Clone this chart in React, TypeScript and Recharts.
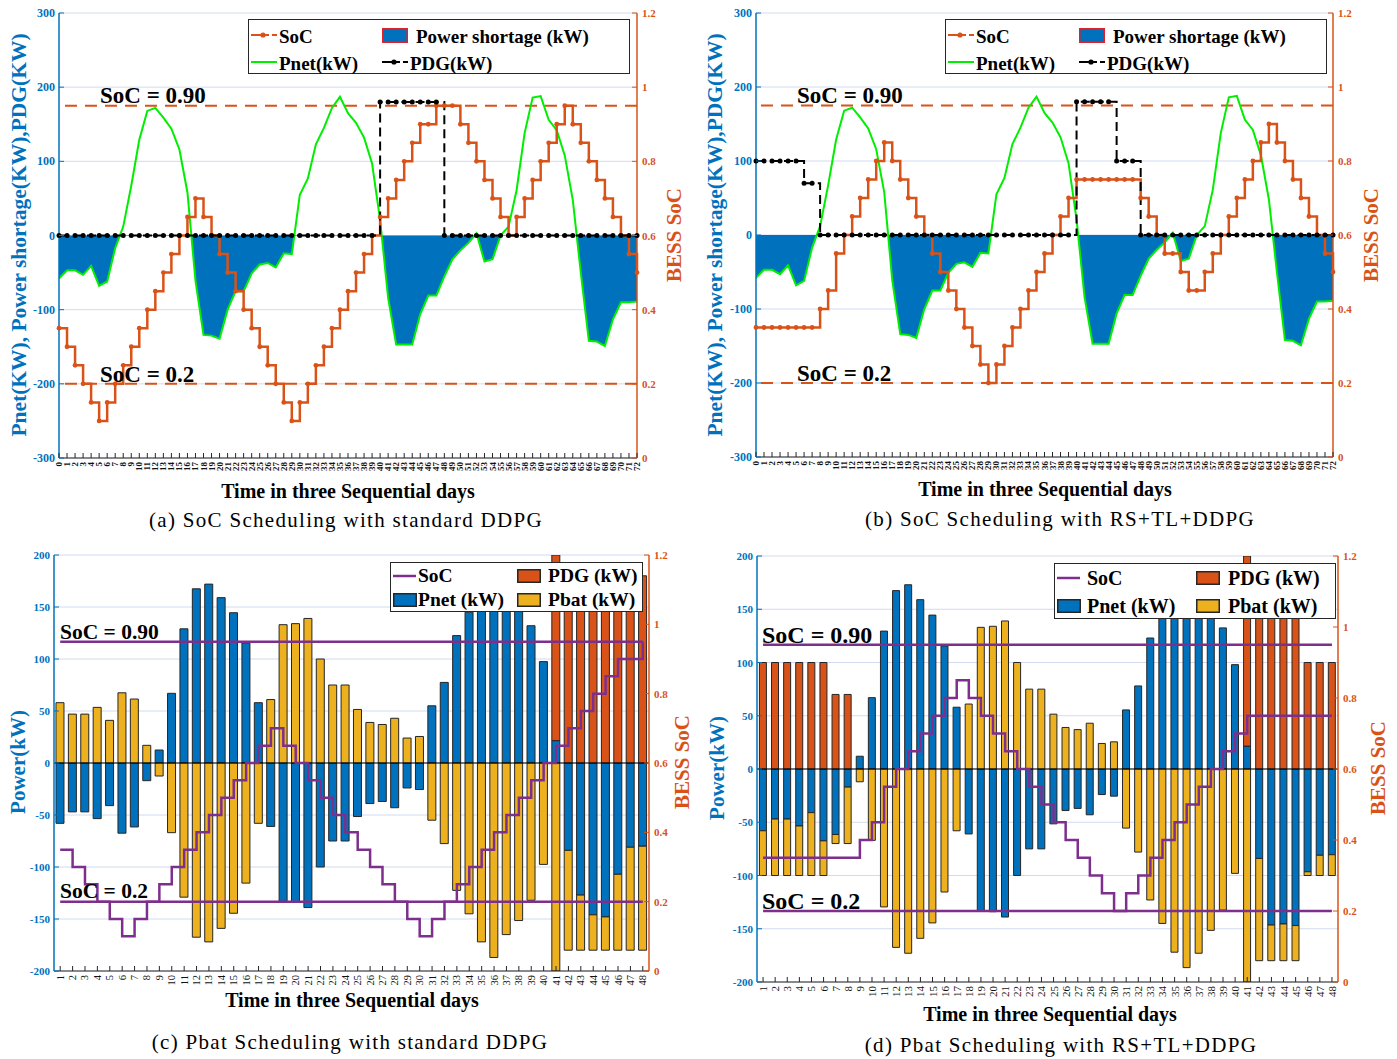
import React from 'react';
import { ComposedChart, Line, Area, Bar, XAxis, YAxis, CartesianGrid, ReferenceLine } from 'recharts';

const SERIF = '"Liberation Serif", "Times New Roman", Times, serif';
const BLUE = '#0072BD';
const ORANGE = '#D95319';
const YELLOW = '#EDB120';
const PURPLE = '#7E2F8E';
const GREEN = '#00EE00';
const GRID = '#d3daf0';
const INK = '#262626';

// x categories
const hours = Array.from({ length: 73 }, (_, i) => i); // 0..72 for (a),(b)
const slots = Array.from({ length: 48 }, (_, i) => String(i + 1)); // 1..48 for (c),(d)

const powerTicksAB = [-300, -200, -100, 0, 100, 200, 300];
const powerTicksCD = [-200, -150, -100, -50, 0, 50, 100, 150, 200];
const socTicks = [0, 0.2, 0.4, 0.6, 0.8, 1, 1.2];

// (a),(b) hourly net power, kW
const pnetHourly = [
  -58, -47, -47, -53, -41, -68, -62, -17, 12, 67,
  129, 168, 172, 159, 144, 116, 58, -61, -134, -135,
  -139, -100, -75, -75, -51, -39, -37, -43, -24, -25,
  55, 77, 123, 145, 172, 187, 165, 152, 132, 97,
  21, -84, -147, -147, -147, -106, -81, -81, -55, -32,
  -20, -10, 3, -35, -32, 0, 12, 61, 138, 186,
  188, 156, 142, 108, 48, -50, -142, -143, -149, -113,
  -90, -90, -89,
];

// (a) standard DDPG
const socStd = [
  0.35, 0.3, 0.25, 0.2, 0.15, 0.1, 0.15, 0.2, 0.25, 0.3,
  0.35, 0.4, 0.45, 0.5, 0.55, 0.6, 0.65, 0.7, 0.65, 0.6,
  0.55, 0.5, 0.45, 0.4, 0.35, 0.3, 0.25, 0.2, 0.15, 0.1,
  0.15, 0.2, 0.25, 0.3, 0.35, 0.4, 0.45, 0.5, 0.55, 0.6,
  0.65, 0.7, 0.75, 0.8, 0.85, 0.9, 0.9, 0.95, 0.95, 0.95,
  0.9, 0.85, 0.8, 0.75, 0.7, 0.65, 0.6, 0.65, 0.7, 0.75,
  0.8, 0.85, 0.9, 0.95, 0.9, 0.85, 0.8, 0.75, 0.7, 0.65,
  0.6, 0.55, 0.5,
];
const pdgStd = [
  0, 0, 0, 0, 0, 0, 0, 0, 0, 0,
  0, 0, 0, 0, 0, 0, 0, 0, 0, 0,
  0, 0, 0, 0, 0, 0, 0, 0, 0, 0,
  0, 0, 0, 0, 0, 0, 0, 0, 0, 0,
  180, 180, 180, 180, 180, 180, 180, 180, 0, 0,
  0, 0, 0, 0, 0, 0, 0, 0, 0, 0,
  0, 0, 0, 0, 0, 0, 0, 0, 0, 0,
  0, 0, 0,
];

// (b) RS+TL+DDPG
const socRs = [
  0.35, 0.35, 0.35, 0.35, 0.35, 0.35, 0.35, 0.35, 0.4, 0.45,
  0.55, 0.6, 0.65, 0.7, 0.75, 0.8, 0.85, 0.8, 0.75, 0.7,
  0.65, 0.6, 0.55, 0.5, 0.45, 0.4, 0.35, 0.3, 0.25, 0.2,
  0.25, 0.3, 0.35, 0.4, 0.45, 0.5, 0.55, 0.6, 0.65, 0.7,
  0.75, 0.75, 0.75, 0.75, 0.75, 0.75, 0.75, 0.75, 0.7, 0.65,
  0.6, 0.55, 0.55, 0.5, 0.45, 0.45, 0.5, 0.55, 0.6, 0.65,
  0.7, 0.75, 0.8, 0.85, 0.9, 0.85, 0.8, 0.75, 0.7, 0.65,
  0.6, 0.55, 0.5,
];
const pdgRs = [
  100, 100, 100, 100, 100, 100, 70, 70, 0, 0,
  0, 0, 0, 0, 0, 0, 0, 0, 0, 0,
  0, 0, 0, 0, 0, 0, 0, 0, 0, 0,
  0, 0, 0, 0, 0, 0, 0, 0, 0, 0,
  180, 180, 180, 180, 180, 100, 100, 100, 0, 0,
  0, 0, 0, 0, 0, 0, 0, 0, 0, 0,
  0, 0, 0, 0, 0, 0, 0, 0, 0, 0,
  0, 0, 0,
];

// (c) Pbat scheduling, standard DDPG
const pnetC = [
  -58, -47, -47, -53.5, -41, -67.5, -61.5, -17, 12.5, 67,
  129, 167.5, 172, 159, 144.5, 115.5, 58, -61, -133, -134,
  -139, -100, -75, -75, -51.5, -39, -37, -43, -24, -25.5,
  55, 77.5, 122.5, 145, 172, 187, 165, 151.5, 132, 97.5,
  21.5, -84, -127, -146, -148, -107, -81, -80,
];
const pbatC = [
  58, 47, 47, 53.5, 41, 67.5, 61.5, 17, -12.5, -67,
  -129, -167.5, -172, -159, -144.5, -115.5, -58, 61, 133, 134,
  139, 100, 75, 75, 51.5, 39, 37, 43, 24, 25.5,
  -55, -77.5, -122.5, -145, -172, -187, -165, -151.5, -132, -97.5,
  -201.5, -96, -53, -34, -32, -73, -99, -100,
];
const pdgC = [
  0, 0, 0, 0, 0, 0, 0, 0, 0, 0,
  0, 0, 0, 0, 0, 0, 0, 0, 0, 0,
  0, 0, 0, 0, 0, 0, 0, 0, 0, 0,
  0, 0, 0, 0, 0, 0, 0, 0, 0, 0,
  180, 180, 180, 180, 180, 180, 180, 180,
];
const socC = [
  0.35, 0.3, 0.25, 0.2, 0.15, 0.1, 0.15, 0.2, 0.25, 0.3,
  0.35, 0.4, 0.45, 0.5, 0.55, 0.6, 0.65, 0.7, 0.65, 0.6,
  0.55, 0.5, 0.45, 0.4, 0.35, 0.3, 0.25, 0.2, 0.15, 0.1,
  0.15, 0.2, 0.25, 0.3, 0.35, 0.4, 0.45, 0.5, 0.55, 0.6,
  0.65, 0.7, 0.75, 0.8, 0.85, 0.9, 0.9, 0.95,
];

// (d) Pbat scheduling, RS+TL+DDPG
const pnetD = [
  -58, -47, -47, -53.5, -41, -67.5, -61.5, -17, 12, 67,
  129.5, 167.5, 173, 159, 144.5, 115.5, 58, -61, -133, -134,
  -139, -100, -75, -75, -51.5, -39, -37, -43, -24, -25.5,
  55.5, 78, 123, 145, 172, 186.5, 173, 151.5, 132.5, 98,
  21.5, -84, -146.5, -145.5, -147, -96.5, -81, -80.5,
];
const pbatD = [
  -42, -53, -53, -46.5, -59, -32.5, -8.5, -53, -12, -67,
  -129.5, -167.5, -173, -159, -144.5, -115.5, -58, 61, 133, 134,
  139, 100, 75, 75, 51.5, 39, 37, 43, 24, 25.5,
  -55.5, -78, -123, -145, -172, -186.5, -173, -151.5, -132.5, -98,
  -201.5, -96, -33.5, -34.5, -33, -3.5, -19, -19.5,
];
const pdgD = [
  100, 100, 100, 100, 100, 100, 70, 70, 0, 0,
  0, 0, 0, 0, 0, 0, 0, 0, 0, 0,
  0, 0, 0, 0, 0, 0, 0, 0, 0, 0,
  0, 0, 0, 0, 0, 0, 0, 0, 0, 0,
  180, 180, 180, 180, 180, 100, 100, 100,
];
const socD = [
  0.35, 0.35, 0.35, 0.35, 0.35, 0.35, 0.35, 0.35, 0.4, 0.45,
  0.55, 0.6, 0.65, 0.7, 0.75, 0.8, 0.85, 0.8, 0.75, 0.7,
  0.65, 0.6, 0.55, 0.5, 0.45, 0.4, 0.35, 0.3, 0.25, 0.2,
  0.25, 0.3, 0.35, 0.4, 0.45, 0.5, 0.55, 0.6, 0.65, 0.7,
  0.75, 0.75, 0.75, 0.75, 0.75, 0.75, 0.75, 0.75,
];

// split point of the shortage gradient (only the part below 0 is filled)
const pMax = Math.max(...pnetHourly);
const pMin = Math.min(...pnetHourly);
const zeroOff = pMax / (pMax - pMin);

// ---- ticks ----
const makeBottomTick = (fs: number, weight: number) => (props: any) => {
  const { x, y, payload } = props;
  return (
    <g>
      <line x1={x} x2={x} y1={y - 3} y2={y - 8} stroke={INK} strokeWidth={1} />
      <text
        x={x}
        y={y + 1}
        transform={`rotate(-90 ${x} ${y + 1})`}
        textAnchor="end"
        dominantBaseline="central"
        fontSize={fs}
        fontWeight={weight}
        fontFamily={SERIF}
        fill="#111"
      >
        {payload.value}
      </text>
    </g>
  );
};
const TopTick = (props: any) => (
  <line x1={props.x} x2={props.x} y1={props.y} y2={props.y + 5} stroke={INK} strokeWidth={1} />
);
const makeLeftTick = (fs: number) => (props: any) => {
  const { x, y, payload } = props;
  return (
    <g>
      <line x1={x + 4} x2={x + 9} y1={y} y2={y} stroke={BLUE} />
      <text x={x} y={y} textAnchor="end" dominantBaseline="central" fontSize={fs} fontWeight={700} fontFamily={SERIF} fill={BLUE}>
        {payload.value}
      </text>
    </g>
  );
};
const makeRightTick = (fs: number) => (props: any) => {
  const { x, y, payload } = props;
  return (
    <g>
      <line x1={x - 4} x2={x - 9} y1={y} y2={y} stroke={ORANGE} />
      <text x={x + 1} y={y} textAnchor="start" dominantBaseline="central" fontSize={fs} fontWeight={700} fontFamily={SERIF} fill={ORANGE}>
        {payload.value}
      </text>
    </g>
  );
};

// ---- text helpers ----
type TProps = {
  x: number;
  y: number;
  size: number;
  bold?: boolean;
  color?: string;
  rotate?: boolean;
  left?: boolean;
  spacing?: number;
  children: React.ReactNode;
};
function T({ x, y, size, bold = true, color = '#000', rotate = false, left = false, spacing = 0, children }: TProps) {
  return (
    <div
      style={{
        position: 'absolute',
        left: x,
        top: y,
        transform: `translate(${left ? '0' : '-50%'}, -50%)${rotate ? ' rotate(-90deg)' : ''}`,
        fontFamily: SERIF,
        fontWeight: bold ? 700 : 400,
        fontSize: size,
        color,
        lineHeight: 1,
        whiteSpace: 'nowrap',
        letterSpacing: spacing,
      }}
    >
      {children}
    </div>
  );
}

const Icon = ({ x, y, w, h, children }: { x: number; y: number; w: number; h: number; children: React.ReactNode }) => (
  <svg width={w} height={h} style={{ position: 'absolute', left: x, top: y - h / 2 }}>
    {children}
  </svg>
);

function LineDotIcon({ x, y, color }: { x: number; y: number; color: string }) {
  return (
    <Icon x={x} y={y} w={26} h={8}>
      <line x1={0} x2={26} y1={4} y2={4} stroke={color} strokeWidth={2} strokeDasharray="10 3 5 3 5" />
      <circle cx={12} cy={4} r={2.6} fill={color} />
    </Icon>
  );
}

function Swatch({ x, y, w, h, fill, stroke }: { x: number; y: number; w: number; h: number; fill: string; stroke: string }) {
  return (
    <Icon x={x} y={y} w={w} h={h}>
      <rect x={0.75} y={0.75} width={w - 1.5} height={h - 1.5} fill={fill} stroke={stroke} strokeWidth={1.5} />
    </Icon>
  );
}

function LegendAB({ left, top }: { left: number; top: number }) {
  return (
    <div style={{ position: 'absolute', left, top, width: 382, height: 55, background: '#fff', border: `1.5px solid ${INK}`, boxSizing: 'border-box' }}>
      <LineDotIcon x={2} y={15} color={ORANGE} />
      <T x={30} y={16} size={19} left>SoC</T>
      <Swatch x={133} y={15} w={26} h={15} fill={BLUE} stroke="#e0202a" />
      <T x={167} y={16} size={19} left>Power shortage (kW)</T>
      <Icon x={2} y={42} w={26} h={6}>
        <line x1={0} x2={26} y1={3} y2={3} stroke={GREEN} strokeWidth={2} />
      </Icon>
      <T x={30} y={43} size={19} left>Pnet(kW)</T>
      <LineDotIcon x={133} y={42} color="#000" />
      <T x={161} y={43} size={19} left>PDG(kW)</T>
    </div>
  );
}

function LegendCD({ left, top, width, height, rows, colX, textX, size }: { left: number; top: number; width: number; height: number; rows: [number, number]; colX: [number, number]; textX: [number, number]; size: number }) {
  return (
    <div style={{ position: 'absolute', left, top, width, height, background: '#fff', border: `1.5px solid ${INK}`, boxSizing: 'border-box' }}>
      <Icon x={colX[0]} y={rows[0]} w={23} h={6}>
        <line x1={0} x2={23} y1={3} y2={3} stroke={PURPLE} strokeWidth={2.5} />
      </Icon>
      <T x={textX[0]} y={rows[0]} size={size} left>SoC</T>
      <Swatch x={colX[1]} y={rows[0]} w={24} h={14} fill={ORANGE} stroke={INK} />
      <T x={textX[1]} y={rows[0]} size={size} left>PDG (kW)</T>
      <Swatch x={colX[0]} y={rows[1]} w={24} h={14} fill={BLUE} stroke={INK} />
      <T x={textX[0]} y={rows[1]} size={size} left>Pnet (kW)</T>
      <Swatch x={colX[1]} y={rows[1]} w={24} h={14} fill={YELLOW} stroke={INK} />
      <T x={textX[1]} y={rows[1]} size={size} left>Pbat (kW)</T>
    </div>
  );
}

// ---- SoC panels (a),(b) ----
type SocPanelProps = {
  soc: number[];
  pdg: number[];
  left: number;
  top: number;
  width: number;
  height: number;
  marginTop: number;
  leftW: number;
  rightW: number;
  bottomH: number;
};
function SocPanel({ soc, pdg, left, top, width, height, marginTop, leftW, rightW, bottomH }: SocPanelProps) {
  const rows = hours.map((h, i) => ({ hour: h, pnet: pnetHourly[i], soc: soc[i], pdg: pdg[i] }));
  return (
    <div style={{ position: 'absolute', left, top }}>
      <ComposedChart width={width} height={height} data={rows} margin={{ top: marginTop, right: 0, bottom: 0, left: 0 }}>
        <CartesianGrid xAxisId="b" yAxisId="pw" vertical={false} stroke={GRID} />
        <XAxis
          xAxisId="b"
          dataKey="hour"
          type="number"
          domain={[0, 72]}
          ticks={hours}
          interval={0}
          height={bottomH}
          tickSize={0}
          tickMargin={3}
          tickLine={false}
          axisLine={{ stroke: INK }}
          tick={makeBottomTick(9, 700)}
        />
        <XAxis
          xAxisId="t"
          dataKey="hour"
          type="number"
          domain={[0, 72]}
          ticks={hours}
          interval={0}
          orientation="top"
          height={0}
          tickSize={0}
          tickMargin={0}
          tickLine={false}
          axisLine={{ stroke: INK }}
          tick={TopTick}
        />
        <YAxis
          yAxisId="pw"
          domain={[-300, 300]}
          ticks={powerTicksAB}
          interval={0}
          width={leftW}
          tickSize={0}
          tickMargin={4}
          tickLine={false}
          axisLine={{ stroke: BLUE, strokeWidth: 1.5 }}
          tick={makeLeftTick(12)}
        />
        <YAxis
          yAxisId="soc"
          orientation="right"
          domain={[0, 1.2]}
          ticks={socTicks}
          interval={0}
          width={rightW}
          tickSize={0}
          tickMargin={4}
          tickLine={false}
          axisLine={{ stroke: ORANGE, strokeWidth: 1.5 }}
          tick={makeRightTick(11)}
        />
        <Area
          xAxisId="b"
          yAxisId="pw"
          dataKey="pnet"
          type="linear"
          baseValue={0}
          fill="url(#shortageFill)"
          fillOpacity={1}
          stroke="none"
          dot={false}
          activeDot={false}
          isAnimationActive={false}
        />
        <ReferenceLine xAxisId="b" yAxisId="soc" y={0.95} stroke={ORANGE} strokeWidth={2} strokeDasharray="12 8" />
        <ReferenceLine xAxisId="b" yAxisId="soc" y={0.2} stroke={ORANGE} strokeWidth={2} strokeDasharray="12 8" />
        <Line xAxisId="b" yAxisId="pw" dataKey="pnet" type="linear" stroke={GREEN} strokeWidth={2} dot={false} activeDot={false} isAnimationActive={false} />
        <Line
          xAxisId="b"
          yAxisId="soc"
          dataKey="soc"
          type="stepAfter"
          stroke={ORANGE}
          strokeWidth={2.5}
          dot={{ r: 2.4, fill: ORANGE, stroke: ORANGE, strokeWidth: 0 }}
          activeDot={false}
          isAnimationActive={false}
        />
        <Line
          xAxisId="b"
          yAxisId="pw"
          dataKey="pdg"
          type="stepAfter"
          stroke="#000"
          strokeWidth={2}
          strokeDasharray="9 5"
          dot={{ r: 2.5, fill: '#000', stroke: '#000', strokeWidth: 0 }}
          activeDot={false}
          isAnimationActive={false}
        />
      </ComposedChart>
    </div>
  );
}

// ---- Pbat panels (c),(d) ----
type BarPanelProps = {
  pnet: number[];
  pbat: number[];
  pdg: number[];
  soc: number[];
  left: number;
  top: number;
  width: number;
  height: number;
  marginTop: number;
  leftW: number;
  rightW: number;
  bottomH: number;
  tickFs: number;
  gap: string;
};
function BarPanel({ pnet, pbat, pdg, soc, left, top, width, height, marginTop, leftW, rightW, bottomH, tickFs, gap }: BarPanelProps) {
  const rows = slots.map((s, i) => ({ slot: s, pnet: pnet[i], pbat: pbat[i], pdg: pdg[i], soc: soc[i] }));
  const first = slots[0];
  const last = slots[slots.length - 1];
  return (
    <div style={{ position: 'absolute', left, top }}>
      <ComposedChart
        width={width}
        height={height}
        data={rows}
        stackOffset="sign"
        barCategoryGap={gap}
        margin={{ top: marginTop, right: 0, bottom: 0, left: 0 }}
      >
        <CartesianGrid xAxisId="b" yAxisId="pw" vertical={false} stroke={GRID} />
        <XAxis
          xAxisId="b"
          dataKey="slot"
          interval={0}
          height={bottomH}
          tickSize={0}
          tickMargin={3}
          tickLine={false}
          axisLine={{ stroke: INK }}
          tick={makeBottomTick(tickFs, 400)}
        />
        <XAxis
          xAxisId="t"
          dataKey="slot"
          interval={0}
          orientation="top"
          height={0}
          tickSize={0}
          tickMargin={0}
          tickLine={false}
          axisLine={{ stroke: INK }}
          tick={TopTick}
        />
        <YAxis
          yAxisId="pw"
          domain={[-200, 200]}
          ticks={powerTicksCD}
          interval={0}
          allowDataOverflow
          width={leftW}
          tickSize={0}
          tickMargin={4}
          tickLine={false}
          axisLine={{ stroke: BLUE, strokeWidth: 1.5 }}
          tick={makeLeftTick(11)}
        />
        <YAxis
          yAxisId="soc"
          orientation="right"
          domain={[0, 1.2]}
          ticks={socTicks}
          interval={0}
          width={rightW}
          tickSize={0}
          tickMargin={4}
          tickLine={false}
          axisLine={{ stroke: ORANGE, strokeWidth: 1.5 }}
          tick={makeRightTick(11)}
        />
        <Bar xAxisId="b" yAxisId="pw" dataKey="pnet" stackId="p" fill={BLUE} stroke={INK} strokeWidth={1} isAnimationActive={false} />
        <Bar xAxisId="b" yAxisId="pw" dataKey="pbat" stackId="p" fill={YELLOW} stroke={INK} strokeWidth={1} isAnimationActive={false} />
        <Bar xAxisId="b" yAxisId="pw" dataKey="pdg" stackId="p" fill={ORANGE} stroke={INK} strokeWidth={1} isAnimationActive={false} />
        <ReferenceLine xAxisId="b" yAxisId="pw" y={0} stroke="#000" strokeWidth={1.2} />
        <ReferenceLine
          xAxisId="b"
          yAxisId="soc"
          segment={[{ x: first, y: 0.95 }, { x: last, y: 0.95 }]}
          stroke={PURPLE}
          strokeWidth={2.5}
        />
        <ReferenceLine
          xAxisId="b"
          yAxisId="soc"
          segment={[{ x: first, y: 0.2 }, { x: last, y: 0.2 }]}
          stroke={PURPLE}
          strokeWidth={2.5}
        />
        <Line
          xAxisId="b"
          yAxisId="soc"
          dataKey="soc"
          type="stepAfter"
          stroke={PURPLE}
          strokeWidth={2.5}
          dot={false}
          activeDot={false}
          isAnimationActive={false}
        />
      </ComposedChart>
    </div>
  );
}

export default function App() {
  return (
    <div style={{ position: 'absolute', left: 0, top: 0, width: 1397, height: 1059, background: '#fff', overflow: 'hidden', fontFamily: SERIF }}>
      <svg width={0} height={0} style={{ position: 'absolute' }}>
        <defs>
          <linearGradient id="shortageFill" x1="0" y1="0" x2="0" y2="1">
            <stop offset={zeroOff} stopColor={BLUE} stopOpacity={0} />
            <stop offset={zeroOff} stopColor={BLUE} stopOpacity={1} />
          </linearGradient>
        </defs>
      </svg>

      {/* (a) */}
      <SocPanel soc={socStd} pdg={pdgStd} left={0} top={0} width={700} height={500} marginTop={13} leftW={59} rightW={63} bottomH={42} />
      <T x={20} y={235} size={21.5} color={BLUE} rotate>Pnet(KW), Power shortage(KW),PDG(KW)</T>
      <T x={674} y={235} size={21} color={ORANGE} rotate>BESS SoC</T>
      <T x={348} y={491} size={20}>Time in three Sequential days</T>
      <T x={346} y={520} size={21} bold={false} spacing={1.3}>(a) SoC Scheduling with standard DDPG</T>
      <T x={100} y={95} size={23} left>SoC = 0.90</T>
      <T x={100} y={374} size={23} left>SoC = 0.2</T>
      <LegendAB left={248} top={19} />

      {/* (b) */}
      <SocPanel soc={socRs} pdg={pdgRs} left={700} top={0} width={697} height={500} marginTop={13} leftW={56} rightW={64} bottomH={43} />
      <T x={716} y={235} size={21.5} color={BLUE} rotate>Pnet(KW), Power shortage(KW),PDG(KW)</T>
      <T x={1371} y={235} size={21} color={ORANGE} rotate>BESS SoC</T>
      <T x={1045} y={489} size={20}>Time in three Sequential days</T>
      <T x={1060} y={519} size={21} bold={false} spacing={1.3}>(b) SoC Scheduling with RS+TL+DDPG</T>
      <T x={797} y={95} size={23} left>SoC = 0.90</T>
      <T x={797} y={373} size={23} left>SoC = 0.2</T>
      <LegendAB left={945} top={19} />

      {/* (c) */}
      <BarPanel
        pnet={pnetC}
        pbat={pbatC}
        pdg={pdgC}
        soc={socC}
        left={0}
        top={540}
        width={700}
        height={460}
        marginTop={15}
        leftW={54}
        rightW={51}
        bottomH={29}
        tickFs={10.5}
        gap="16%"
      />
      <T x={18} y={762} size={21} color={BLUE} rotate>Power(kW)</T>
      <T x={682} y={762} size={21} color={ORANGE} rotate>BESS SoC</T>
      <T x={352} y={1000} size={20}>Time in three Sequential days</T>
      <T x={350} y={1042} size={21} bold={false} spacing={1.3}>(c) Pbat Scheduling with standard DDPG</T>
      <T x={60} y={633} size={21.5} left>SoC = 0.90</T>
      <T x={60} y={892} size={21.5} left>SoC = 0.2</T>
      <LegendCD left={390} top={562} width={253} height={50} rows={[13, 37]} colX={[2, 126]} textX={[27, 157]} size={19.5} />

      {/* (d) */}
      <BarPanel
        pnet={pnetD}
        pbat={pbatD}
        pdg={pdgD}
        soc={socD}
        left={700}
        top={540}
        width={697}
        height={470}
        marginTop={16}
        leftW={57}
        rightW={59}
        bottomH={28}
        tickFs={11}
        gap="20%"
      />
      <T x={717} y={768} size={21} color={BLUE} rotate>Power(kW)</T>
      <T x={1378} y={768} size={21} color={ORANGE} rotate>BESS SoC</T>
      <T x={1050} y={1014} size={20}>Time in three Sequential days</T>
      <T x={1061} y={1045} size={21} bold={false} spacing={1.3}>(d) Pbat Scheduling with RS+TL+DDPG</T>
      <T x={762} y={635} size={24} left>SoC = 0.90</T>
      <T x={762} y={901} size={24} left>SoC = 0.2</T>
      <LegendCD left={1054} top={563} width={282} height={56} rows={[14, 42]} colX={[2, 141]} textX={[32, 173]} size={20} />
    </div>
  );
}
